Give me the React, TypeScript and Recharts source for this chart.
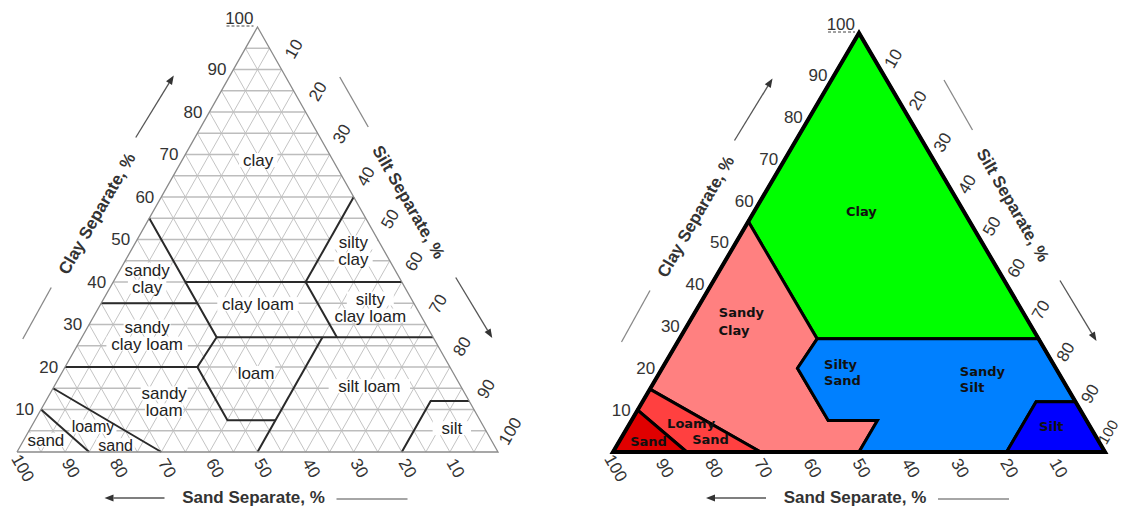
import React from 'react';
import { ScatterChart, Scatter, XAxis, YAxis } from 'recharts';

// every point is [sand %, clay %]; silt is what is left to 100
type P = [number, number];

const tickValues = [10, 20, 30, 40, 50, 60, 70, 80, 90, 100];
const gridLevels = [5, 10, 15, 20, 25, 30, 35, 40, 45, 50, 55, 60, 65, 70, 75, 80, 85, 90, 95];

const triangle: P[] = [[100, 0], [0, 100], [0, 0]];

// USDA texture class boundaries (left chart)
const usdaLines: P[][] = [
  [[90, 10], [85, 0]],
  [[85, 15], [70, 0]],
  [[80, 20], [52.5, 20], [45, 27], [45, 55]],
  [[65, 35], [45, 35]],
  [[45, 40], [0, 40]],
  [[20, 40], [0, 60]],
  [[20, 40], [20, 27]],
  [[45, 27], [0, 27]],
  [[52.5, 20], [52.5, 7.5], [42.5, 7.5]],
  [[50, 0], [23, 27]],
  [[0, 12], [8, 12], [20, 0]],
];

const usdaLabels = [
  { text: 'clay', sand: 15.5, clay: 68.7 },
  { text: 'silty\nclay', sand: 6.4, clay: 47.3 },
  { text: 'sandy\nclay', sand: 52.5, clay: 40.9 },
  { text: 'clay loam', sand: 32.5, clay: 34.8 },
  { text: 'silty\nclay loam', sand: 9.5, clay: 34.1 },
  { text: 'sandy\nclay loam', sand: 59.2, clay: 27.5 },
  { text: 'loam', sand: 41, clay: 18.6 },
  { text: 'silt loam', sand: 19, clay: 15.5 },
  { text: 'sandy\nloam', sand: 63.5, clay: 11.8 },
  { text: 'loamy', sand: 81.2, clay: 6.0 },
  { text: 'sand', sand: 78.7, clay: 1.6 },
  { text: 'sand', sand: 92.6, clay: 2.8 },
  { text: 'silt', sand: 6.8, clay: 5.6 },
];

// simplified classes (right chart)
const clayZone: P[] = [[0, 100], [45, 55], [45, 27], [0, 27]];
const sandyClayZone: P[] = [[45, 55], [85, 15], [70, 0], [50, 0], [42.5, 7.5], [52.5, 7.5], [52.5, 20], [45, 27]];
const loamySandZone: P[] = [[85, 15], [90, 10], [85, 0], [70, 0]];
const sandZone: P[] = [[100, 0], [90, 10], [85, 0]];
const sandySiltZone: P[] = [[45, 27], [0, 27], [0, 12], [8, 12], [20, 0], [50, 0], [42.5, 7.5], [52.5, 7.5], [52.5, 20]];
const siltZone: P[] = [[0, 12], [0, 0], [20, 0], [8, 12]];

const zones = [
  { pts: clayZone, color: '#00ff00' },
  { pts: sandyClayZone, color: '#ff8080' },
  { pts: loamySandZone, color: '#ff4040' },
  { pts: sandZone, color: '#e00000' },
  { pts: sandySiltZone, color: '#0080ff' },
  { pts: siltZone, color: '#0000ff' },
];

const zoneLabels = [
  { text: 'Clay', sand: 23.9, clay: 57.5 },
  { text: 'Sandy', sand: 61.8, clay: 33.4 },
  { text: 'Clay', sand: 64.0, clay: 29.1 },
  { text: 'Silty', sand: 46.6, clay: 21.0 },
  { text: 'Sand', sand: 48.6, clay: 17.0 },
  { text: 'Sandy', sand: 19.85, clay: 19.3 },
  { text: 'Silt', sand: 21.75, clay: 15.5 },
  { text: 'Loamy', sand: 85.55, clay: 6.9 },
  { text: 'Sand', sand: 82.45, clay: 2.9 },
  { text: 'Sand', sand: 95.2, clay: 2.6 },
  { text: 'Silt', sand: 10.3, clay: 6.2 },
];

const toXY = ([sand, clay]: P) => ({ x: 100 - sand - clay / 2, y: clay });

const FONT = '"Liberation Sans", Arial, Helvetica, sans-serif';

const noShape = () => <g />;

const segments = (stroke: string, width: number) => (props: any) => {
  const pts = props.points || [];
  const out: React.ReactNode[] = [];
  for (let i = 0; i + 1 < pts.length; i += 2) {
    out.push(
      <line key={i} x1={pts[i].x} y1={pts[i].y} x2={pts[i + 1].x} y2={pts[i + 1].y}
        stroke={stroke} strokeWidth={width} />
    );
  }
  return <g>{out}</g>;
};

const polyline = (stroke: string, width: number) => (props: any) => (
  <polyline points={(props.points || []).map((p: any) => `${p.x},${p.y}`).join(' ')}
    fill="none" stroke={stroke} strokeWidth={width} strokeLinejoin="miter" />
);

const polygon = (fill: string, stroke: string, width: number) => (props: any) => (
  <polygon points={(props.points || []).map((p: any) => `${p.x},${p.y}`).join(' ')}
    fill={fill} stroke={stroke} strokeWidth={width} strokeLinejoin="miter" />
);

const horizontalGrid = gridLevels.flatMap((v) => [toXY([100 - v, v]), toXY([0, v])]);
const diagonalGrid = gridLevels.flatMap((v) => [
  toXY([v, 0]), toXY([v, 100 - v]),
  toXY([100 - v, 0]), toXY([0, 100 - v]),
]);

const clayTickData = tickValues.map((v) => ({ ...toXY([100 - v, v]), v }));
const siltTickData = tickValues.map((v) => ({ ...toXY([0, 100 - v]), v }));
const sandTickData = tickValues.map((v) => ({ ...toXY([v, 0]), v }));

const tickStyle = { fontFamily: FONT, fontSize: 17, fill: '#333' };

const clayTick = (p: any) => {
  const { cx, cy, payload } = p;
  if (payload.v === 100) {
    return (
      <g>
        <text x={cx - 4} y={cy - 3} textAnchor="end" {...tickStyle}>100</text>
        <line x1={cx - 31} x2={cx - 4} y1={cy - 1} y2={cy - 1} stroke="#444" strokeDasharray="3 2" />
      </g>
    );
  }
  return <text x={cx - 7} y={cy} dy="0.35em" textAnchor="end" {...tickStyle}>{payload.v}</text>;
};

// the label at the bottom-right corner may need a tighter spot near the page edge
const siltTick = (d: number, corner: { dx: number; dy: number; fs: number }) => (p: any) => {
  const isCorner = p.payload.v === 100;
  const x = isCorner ? p.cx + corner.dx : p.cx + d * 0.5;
  const y = isCorner ? p.cy + corner.dy : p.cy - d * 0.866;
  return (
    <text x={x} y={y} dy="0.35em" textAnchor="middle" transform={`rotate(-60 ${x} ${y})`}
      {...tickStyle} fontSize={isCorner ? corner.fs : 17}>
      {p.payload.v}
    </text>
  );
};

const sandTick = (dx: number) => (p: any) => {
  const x = p.cx + dx;
  const y = p.cy + 16;
  return (
    <text x={x} y={y} dy="0.35em" textAnchor="middle" transform={`rotate(60 ${x} ${y})`} {...tickStyle}>
      {p.payload.v}
    </text>
  );
};

const sideAnchors = [
  { ...toXY([50, 50]), side: 'clay' },
  { ...toXY([0, 50]), side: 'silt' },
  { ...toXY([50, 0]), side: 'sand' },
];

const arrowLine = (x1: number, y1: number, x2: number, y2: number) => {
  const a = Math.atan2(y2 - y1, x2 - x1);
  const L = 9;
  const W = 3.5;
  const bx = x2 - L * Math.cos(a);
  const by = y2 - L * Math.sin(a);
  const head = `${x2},${y2} ${bx + W * Math.sin(a)},${by - W * Math.cos(a)} ${bx - W * Math.sin(a)},${by + W * Math.cos(a)}`;
  return (
    <g>
      <line x1={x1} y1={y1} x2={bx} y2={by} stroke="#555" strokeWidth={1.3} />
      <polygon points={head} fill="#333" />
    </g>
  );
};

const sideDecor = (p: any) => {
  const { cx, cy, payload } = p;
  const title = { fontFamily: FONT, fontSize: 17, fontWeight: 700, fill: '#333' };
  const plain = { stroke: '#888', strokeWidth: 1.3 };
  if (payload.side === 'clay') {
    const tx = cx - 40.5;
    const ty = cy - 26;
    return (
      <g>
        <text x={tx} y={ty} dy="0.35em" textAnchor="middle" transform={`rotate(-60 ${tx} ${ty})`} {...title}>
          Clay Separate, %
        </text>
        {arrowLine(cx - 1.5, cy - 102, cx + 36.5, cy - 164)}
        <line x1={cx - 114.5} y1={cy + 99.5} x2={cx - 86} y2={cy + 48} {...plain} />
      </g>
    );
  }
  if (payload.side === 'silt') {
    const tx = cx + 31;
    const ty = cy - 37.5;
    return (
      <g>
        <text x={tx} y={ty} dy="0.35em" textAnchor="middle" transform={`rotate(60 ${tx} ${ty})`} {...title}>
          Silt Separate, %
        </text>
        <line x1={cx - 38} y1={cy - 162.5} x2={cx - 9.5} y2={cy - 112.5} {...plain} />
        {arrowLine(cx + 78, cy + 38, cx + 114.5, cy + 98.5)}
      </g>
    );
  }
  return (
    <g>
      <text x={cx - 4} y={cy + 45.5} dy="0.35em" textAnchor="middle" {...title}>Sand Separate, %</text>
      {arrowLine(cx - 93, cy + 46, cx - 153, cy + 46)}
      <line x1={cx + 79} y1={cy + 47} x2={cx + 150} y2={cy + 47} {...plain} />
    </g>
  );
};

const usdaLabel = (p: any) => {
  const { cx, cy, payload } = p;
  const lines: string[] = payload.text.split('\n');
  const lh = 17;
  const top = cy - ((lines.length - 1) * lh) / 2;
  const small = payload.text === 'loamy' || (payload.text === 'sand' && payload.y < 2);
  const fs = small ? 16 : 17;
  return (
    <g>
      {lines.map((t, i) => (
        <rect key={'r' + i} x={cx - t.length * 4.3 - 2} y={top + i * lh - 7} width={t.length * 8.6 + 4}
          height={14} fill="#fff" />
      ))}
      {lines.map((t, i) => (
        <text key={'t' + i} x={cx} y={top + i * lh} dy="0.35em" textAnchor="middle"
          fontFamily={FONT} fontSize={fs} fill="#222">{t}</text>
      ))}
    </g>
  );
};

const zoneLabel = (p: any) => (
  <text x={p.cx} y={p.cy} dy="0.35em" textAnchor="start" fontFamily='"DejaVu Sans", Verdana, sans-serif'
    fontSize={13} fontWeight={700} fill="#111">{p.payload.text}</text>
);

const axes = () => [
  <XAxis key="x" type="number" dataKey="x" domain={[0, 100]} hide />,
  <YAxis key="y" type="number" dataKey="y" domain={[0, 100]} hide />,
];

const frame = (tickDist: number, corner: { dx: number; dy: number; fs: number }, sandDx: number) => [
  <Scatter key="ct" data={clayTickData} shape={clayTick} isAnimationActive={false} legendType="none" />,
  <Scatter key="st" data={siltTickData} shape={siltTick(tickDist, corner)} isAnimationActive={false} legendType="none" />,
  <Scatter key="sat" data={sandTickData} shape={sandTick(sandDx)} isAnimationActive={false} legendType="none" />,
  <Scatter key="dec" data={sideAnchors} shape={sideDecor} isAnimationActive={false} legendType="none" />,
];

const UsdaChart = () => (
  <ScatterChart width={560} height={508} margin={{ top: 27, right: 62, bottom: 56, left: 17 }}>
    {axes()}
    <Scatter data={diagonalGrid} shape={noShape} line={segments('#c4c4c4', 1)} isAnimationActive={false} legendType="none" />
    <Scatter data={horizontalGrid} shape={noShape} line={segments('#bdbdbd', 1.4)} isAnimationActive={false} legendType="none" />
    <Scatter data={usdaLabels.map((l) => ({ ...toXY([l.sand, l.clay]), text: l.text }))} shape={usdaLabel}
      isAnimationActive={false} legendType="none" />
    {usdaLines.map((ln, i) => (
      <Scatter key={'b' + i} data={ln.map(toXY)} shape={noShape} line={polyline('#2a2a2a', 2)}
        isAnimationActive={false} legendType="none" />
    ))}
    <Scatter data={[...triangle, triangle[0]].map(toXY)} shape={noShape} line={polyline('#8a8a8a', 1.3)}
      isAnimationActive={false} legendType="none" />
    {frame(24, { dx: 12, dy: -21, fs: 17 }, 6)}
  </ScatterChart>
);

const ZoneChart = () => (
  <ScatterChart width={563} height={508} margin={{ top: 33, right: 18, bottom: 56, left: 53 }}>
    {axes()}
    {zones.map((z, i) => (
      <Scatter key={'z' + i} data={z.pts.map(toXY)} shape={noShape} line={polygon(z.color, '#000', 3)}
        isAnimationActive={false} legendType="none" />
    ))}
    <Scatter data={triangle.map(toXY)} shape={noShape} line={polygon('none', '#000', 4)}
      isAnimationActive={false} legendType="none" />
    <Scatter data={zoneLabels.map((l) => ({ ...toXY([l.sand, l.clay]), text: l.text }))} shape={zoneLabel}
      isAnimationActive={false} legendType="none" />
    {frame(19, { dx: 3, dy: -20, fs: 15 }, 3)}
  </ScatterChart>
);

export default function App() {
  return (
    <div style={{ position: 'absolute', left: 0, top: 0, width: 1123, height: 508, background: '#fff' }}>
      <div style={{ position: 'absolute', left: 0, top: 0 }}>
        <UsdaChart />
      </div>
      <div style={{ position: 'absolute', left: 560, top: 0 }}>
        <ZoneChart />
      </div>
    </div>
  );
}
